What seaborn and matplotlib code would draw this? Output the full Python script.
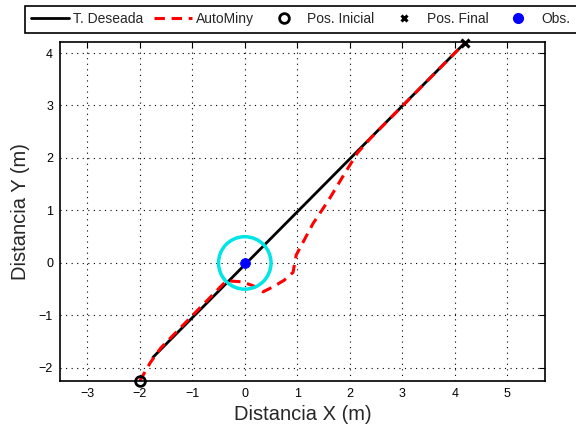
import numpy as np
import pandas as pd
import matplotlib
matplotlib.use("Agg")
import matplotlib.pyplot as plt
from matplotlib.patches import Circle
from matplotlib.lines import Line2D
import seaborn as sns

# Data
desired_x = [-1.75, 4.2]
desired_y = [-1.8, 4.2]
autominy_x = [-2.0, -1.8, -1.6, -0.35, -0.05, 0.2, 0.35, 0.55, 0.75, 0.92, 0.98, 1.3, 1.6, 1.9, 2.15, 2.4, 4.2]
autominy_y = [-2.25, -1.9, -1.62, -0.34, -0.36, -0.45, -0.55, -0.45, -0.33, -0.18, 0.15, 0.75, 1.2, 1.7, 2.1, 2.38, 4.2]
start_pt = (-2.0, -2.25)
final_pt = (4.2, 4.2)
obs_pt = (0.0, 0.0)
obs_radius = 0.5
xticks = [-3, -2, -1, 0, 1, 2, 3, 4, 5]
yticks = [-2, -1, 0, 1, 2, 3, 4]
labels = ["T. Deseada", "AutoMiny", "Pos. Inicial", "Pos. Final", "Obs."]

sns.set_style("white")
plt.rcParams['font.family'] = ['Liberation Sans', 'DejaVu Sans']
plt.rcParams['axes.unicode_minus'] = True

fig = plt.figure(figsize=(5.76, 4.30), dpi=100)
ax = fig.add_axes([60/576, 1-381/430, (545-60)/576, (381-42)/430])

df_des = pd.DataFrame({"x": desired_x, "y": desired_y})
df_auto = pd.DataFrame({"x": autominy_x, "y": autominy_y})

sns.lineplot(data=df_des, x="x", y="y", sort=False, estimator=None, color="black", lw=2.0, ax=ax)
sns.lineplot(data=df_auto, x="x", y="y", sort=False, estimator=None, color="red", lw=2.2, ax=ax,
             linestyle=(0, (3.4, 2.2)))

ax.add_patch(Circle(obs_pt, obs_radius, fill=False, edgecolor="#00e5e5", lw=2.5, zorder=3))
sns.scatterplot(x=[obs_pt[0]], y=[obs_pt[1]], color="blue", s=50, edgecolor="blue", ax=ax, zorder=4)
ax.plot([start_pt[0]], [start_pt[1]], marker="o", ms=7, mfc="none", mec="black", mew=2, ls="none", zorder=5, clip_on=False)
ax.plot([final_pt[0]], [final_pt[1]], marker="x", ms=6, mec="black", mew=2.2, ls="none", zorder=5, clip_on=False)

ax.set_xlim(-3.52, 5.72)
ax.set_ylim(-2.25, 4.21)
ax.set_xticks(xticks)
ax.set_yticks(yticks)
ax.set_xticklabels([f"{t:d}".replace("-", "\u2212") for t in xticks], fontsize=9)
ax.set_yticklabels([f"{t:d}".replace("-", "\u2212") for t in yticks], fontsize=9)
ax.tick_params(direction="in", length=4, width=0.8, top=True, right=True, colors="black", pad=5)
ax.grid(True, linestyle=(0, (1, 4)), color="black", lw=0.8)
for s in ax.spines.values():
    s.set_color("black")
    s.set_linewidth(1.2)
ax.set_xlabel("Distancia X (m)", fontsize=14.5, labelpad=4)
ax.set_ylabel("Distancia Y (m)", fontsize=14.5, labelpad=6)

handles = [
    Line2D([], [], color="black", lw=2),
    Line2D([], [], color="red", lw=2.2, linestyle=(0, (3.4, 2.2))),
    Line2D([], [], marker="o", ms=7, mfc="none", mec="black", mew=2, ls="none"),
    Line2D([], [], marker="x", ms=5, mec="black", mew=2.2, ls="none"),
    Line2D([], [], marker="o", ms=7, mfc="blue", mec="blue", ls="none"),
]
leg = fig.legend(handles, labels, ncol=5, loc="upper left", bbox_to_anchor=(25/576, 1-6/430),
                 fontsize=10, frameon=True, fancybox=False, edgecolor="black", framealpha=1,
                 handlelength=2.7, handletextpad=0.3, columnspacing=0.8, borderpad=0.45,
                 borderaxespad=0)
leg.get_frame().set_linewidth(1.2)

fig.savefig("out.png", dpi=100)
